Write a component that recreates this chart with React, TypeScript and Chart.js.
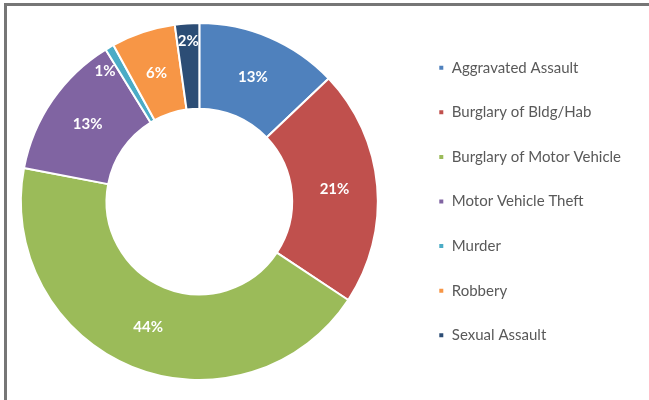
import React, { useEffect, useRef } from "react";
import { Chart, registerables } from "chart.js";

Chart.register(...registerables);

const categories = [
  "Aggravated Assault",
  "Burglary of Bldg/Hab",
  "Burglary of Motor Vehicle",
  "Motor Vehicle Theft",
  "Murder",
  "Robbery",
  "Sexual Assault",
];
const shares = [12.9, 21.4, 43.7, 13.2, 0.8, 5.8, 2.2];
const colors = ["#4F81BD", "#C0504D", "#9BBB59", "#8064A2", "#4BACC6", "#F79646", "#2C4D75"];

const SHIFT = 10;

const labelPlugin = {
  id: "sliceLabels",
  afterDatasetsDraw(chart: any) {
    const ctx = chart.ctx;
    const meta = chart.getDatasetMeta(0);
    const data = chart.data.datasets[0].data as number[];
    const total = data.reduce((a, b) => a + b, 0);
    ctx.save();
    ctx.fillStyle = "#ffffff";
    ctx.font = "bold 15px Lato";
    ctx.textAlign = "center";
    ctx.textBaseline = "middle";
    meta.data.forEach((arc: any, i: number) => {
      const p = arc.getProps(["x", "y", "startAngle", "endAngle", "innerRadius", "outerRadius"], true);
      const pct = (data[i] / total) * 100;
      let ang = (p.startAngle + p.endAngle) / 2;
      let r = (p.innerRadius + p.outerRadius) / 2;
      if (pct < 3) {
        r = p.outerRadius - 18;
        if (pct < 1.5) ang -= 0.1;
      }
      const x = p.x + Math.cos(ang) * r;
      const y = p.y + Math.sin(ang) * r;
      ctx.fillText(Math.round(pct) + "%", x, y);
    });
    ctx.restore();
  },
};

export default function App() {
  const ref = useRef<HTMLCanvasElement>(null);
  useEffect(() => {
    document.body.style.margin = "0";
    const chart = new Chart(ref.current!, {
      type: "doughnut",
      data: {
        labels: categories,
        datasets: [
          {
            data: shares,
            backgroundColor: colors,
            borderColor: "#ffffff",
            borderWidth: 2,
          },
        ],
      },
      options: {
        animation: false,
        responsive: false,
        cutout: "52%",
        layout: { padding: { top: 22, bottom: 19, left: 0, right: 18 } },
        plugins: {
          tooltip: { enabled: false },
          legend: {
            position: "right",
            labels: {
              boxWidth: 6,
              boxHeight: 6,
              padding: 29.6,
              color: "#595959",
              font: { family: "Lato", size: 15 },
            },
          },
        },
      },
      plugins: [labelPlugin],
    });
    return () => chart.destroy();
  }, []);
  return (
    <div style={{ position: "relative", width: 649, height: 400, overflow: "hidden", background: "#fff" }}>
      <canvas
        ref={ref}
        width={649 + SHIFT}
        height={400}
        style={{ position: "absolute", left: -SHIFT, top: 0 }}
      />
      <div
        style={{
          position: "absolute",
          left: 4,
          top: 3,
          width: 700,
          height: 450,
          border: "3px solid #767676",
          boxSizing: "border-box",
          pointerEvents: "none",
        }}
      />
    </div>
  );
}
